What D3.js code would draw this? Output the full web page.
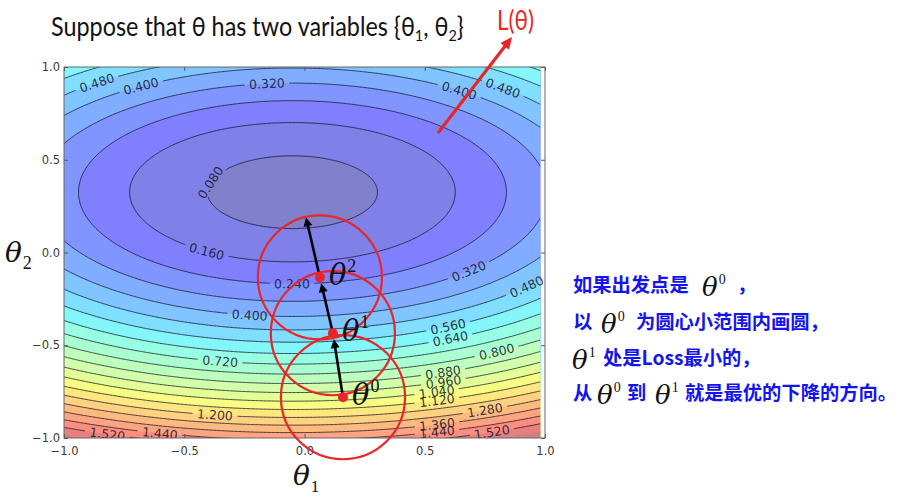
<!DOCTYPE html>
<html>
<head>
<meta charset="utf-8">
<script src="https://cdn.jsdelivr.net/npm/d3@7"></script>
<style>
  body { margin: 0; background: #fff; }
  svg { display: block; }
</style>
</head>
<body>
<svg id="chart" width="902" height="497"></svg>
<script>
// ---- values ----
// loss surface L(θ1, θ2): bowl with its bottom near (-0.05, 0.325)
let lossCenter = [-0.05, 0.325];
let lossCurvature = [0.24, 0.78];
let lossFloor = 0.05;
// contour levels that carry a line
let levels = [0.08, 0.16, 0.24, 0.32, 0.40, 0.48, 0.56, 0.64, 0.72, 0.80,
              0.88, 0.96, 1.04, 1.12, 1.20, 1.28, 1.36, 1.44, 1.52];
// filled band edges (the colour map runs from 0 to 1.68)
let fillLevels = [0, 0.08, 0.16, 0.24, 0.32, 0.40, 0.48, 0.56, 0.64, 0.72, 0.80,
                  0.88, 0.96, 1.04, 1.12, 1.20, 1.28, 1.36, 1.44, 1.52, 1.60];
let colorMax = 1.68;
let gridXMax = 0.98;   // the filled area stops a little short of the right frame
let xTicks = [-1, -0.5, 0, 0.5, 1];
let yTicks = [-1, -0.5, 0, 0.5, 1];
// inline contour labels: [level, θ1, θ2]
let labelSpots = [
  [0.48, -0.863, 0.914], [0.40, -0.684, 0.909], [0.32, -0.156, 0.909],
  [0.40, 0.647, 0.882], [0.48, 0.825, 0.887], [0.08, -0.375, 0.370],
  [0.16, -0.405, 0.011], [0.24, -0.052, -0.161], [0.40, -0.227, -0.328],
  [0.72, -0.351, -0.586], [1.20, -0.372, -0.871], [1.44, -0.601, -0.973],
  [1.52, -0.821, -0.984], [0.32, 0.688, -0.108], [0.48, 0.929, -0.194],
  [0.56, 0.597, -0.398], [0.64, 0.605, -0.457], [0.80, 0.800, -0.538],
  [0.88, 0.576, -0.645], [0.96, 0.576, -0.688], [1.04, 0.55, -0.753],
  [1.12, 0.55, -0.796], [1.28, 0.75, -0.849], [1.36, 0.55, -0.919],
  [1.44, 0.55, -0.962], [1.52, 0.78, -0.973]
];
// gradient steps θ0, θ1, θ2 and where the last arrow points
let stepNames = ['0', '1', '2'];
let stepPoints = [[0.160, -0.780], [0.118, -0.435], [0.064, -0.134]];
let stepEnd = [0.006, 0.190];
let stepRadius = 0.258;   // circle radius, in θ1 units
// red arrow towards the L(θ) axis
let lossArrow = [[0.555, 0.644], [0.863, 1.162]];
let titleText = ['Suppose that θ has two variables {θ', '1', ', θ', '2', '}'];
let noteLines = [
  [{t: '如果出发点是', x: 573}, {theta: '0', x: 702}, {t: '，', x: 737}],
  [{t: '以', x: 573}, {theta: '0', x: 601}, {t: '为圆心小范围内画圆，', x: 636}],
  [{theta: '1', x: 572}, {t: '处是Loss最小的，', x: 603}],
  [{t: '从', x: 573}, {theta: '0', x: 597}, {t: '到', x: 627}, {theta: '1', x: 655},
   {t: '就是最优的下降的方向。', x: 685}]
];
let noteBaselines = [292, 329, 365, 400];

// ---- setup ----
let W = 902, H = 497;
let svg = d3.select('#chart');
let defs = svg.append('defs');
let xScale = d3.scaleLinear().domain([-1, 1]).range([64, 545]);
let yScale = d3.scaleLinear().domain([-1, 1]).range([438, 67]);
let red = '#e8262a';
let serif = 'DejaVu Serif, Liberation Serif, serif';

function loss(t1, t2) {
    return lossFloor + lossCurvature[0] * (t1 - lossCenter[0]) ** 2
        + lossCurvature[1] * (t2 - lossCenter[1]) ** 2;
}
function lossGrad(t1, t2) {
    return [2 * lossCurvature[0] * (t1 - lossCenter[0]), 2 * lossCurvature[1] * (t2 - lossCenter[1])];
}

// jet colour map (matplotlib segment data)
let jetR = d3.scaleLinear().domain([0, 0.35, 0.66, 0.89, 1]).range([0, 0, 1, 1, 0.5]).clamp(true);
let jetG = d3.scaleLinear().domain([0, 0.125, 0.375, 0.64, 0.91, 1]).range([0, 0, 1, 1, 0, 0]).clamp(true);
let jetB = d3.scaleLinear().domain([0, 0.11, 0.34, 0.65, 1]).range([0.5, 1, 1, 0, 0]).clamp(true);
let alpha = 0.5;
function bandColor(v) {
    let t = v / colorMax;
    let mix = c => Math.round(255 * (1 - alpha) + 255 * c * alpha);
    return d3.rgb(mix(jetR(t)), mix(jetG(t)), mix(jetB(t))).toString();
}

// sample the surface on a grid a little bigger than the plot
let nx = 381, ny = 321;
let gx0 = -1.04, gx1 = 1.04, gyTop = 1.04, gyBot = -1.04;
let dxg = (gx1 - gx0) / (nx - 1), dyg = (gyTop - gyBot) / (ny - 1);
let values = new Array(nx * ny);
for (let j = 0; j < ny; j++) {
    for (let i = 0; i < nx; i++) {
        values[j * nx + i] = loss(gx0 + i * dxg, gyTop - j * dyg);
    }
}
let proj = d3.geoTransform({
    point: function (u, v) {
        this.stream.point(xScale(gx0 + (u - 0.5) * dxg), yScale(gyTop - (v - 0.5) * dyg));
    }
});
let path = d3.geoPath(proj);

// clips
defs.append('clipPath').attr('id', 'fillClip').append('rect')
    .attr('x', xScale(-1)).attr('y', yScale(1))
    .attr('width', xScale(gridXMax) - xScale(-1)).attr('height', yScale(-1) - yScale(1));
defs.append('clipPath').attr('id', 'plotClip').append('rect')
    .attr('x', xScale(-1)).attr('y', yScale(1))
    .attr('width', xScale(1) - xScale(-1)).attr('height', yScale(-1) - yScale(1));
let mask = defs.append('mask').attr('id', 'labelGap').attr('maskUnits', 'userSpaceOnUse')
    .attr('x', 0).attr('y', 0).attr('width', W).attr('height', H);
mask.append('rect').attr('width', W).attr('height', H).attr('fill', '#fff');

// ---- filled bands ----
let fillG = svg.append('g').attr('clip-path', 'url(#fillClip)');
let bands = d3.contours().size([nx, ny]).thresholds(fillLevels)(values);
fillG.selectAll('path.band')
    .data(bands)
    .enter()
    .append('path')
    .attr('class', 'band')
    .attr('d', path)
    .attr('fill', (d, i) => {
        let next = i + 1 < fillLevels.length ? fillLevels[i + 1] : colorMax;
        return bandColor((d.value + next) / 2);
    })
    .attr('stroke', 'none');

// ---- contour lines, broken where a label sits ----
let lineOuter = svg.append('g').attr('clip-path', 'url(#fillClip)');
let lineG = lineOuter.append('g').attr('mask', 'url(#labelGap)');
let isolines = d3.contours().size([nx, ny]).thresholds(levels)(values);
lineG.selectAll('path.iso')
    .data(isolines)
    .enter()
    .append('path')
    .attr('class', 'iso')
    .attr('d', path)
    .attr('fill', 'none')
    .attr('stroke', '#14142a')
    .attr('stroke-width', 0.9)
    .attr('stroke-opacity', 0.85);

// ---- contour labels ----
function snapToLevel(level, p) {
    // walk along the gradient until the point sits on the level curve
    let q = [p[0], p[1]];
    for (let k = 0; k < 8; k++) {
        let g = lossGrad(q[0], q[1]);
        let g2 = g[0] * g[0] + g[1] * g[1];
        let diff = loss(q[0], q[1]) - level;
        q = [q[0] - diff * g[0] / g2, q[1] - diff * g[1] / g2];
    }
    return q;
}
let labelG = svg.append('g').attr('clip-path', 'url(#plotClip)');
labelSpots.forEach(s => {
    let q = snapToLevel(s[0], [s[1], s[2]]);
    let g = lossGrad(q[0], q[1]);
    let kx = xScale(1) - xScale(0), ky = yScale(0) - yScale(1);
    let ang = Math.atan2(g[0] * ky, g[1] * kx) * 180 / Math.PI;
    if (ang > 90) ang -= 180;
    if (ang < -90) ang += 180;
    let px = xScale(q[0]), py = yScale(q[1]);
    let tf = 'translate(' + px + ',' + py + ') rotate(' + ang + ')';
    let txt = labelG.append('text')
        .attr('transform', tf)
        .attr('text-anchor', 'middle')
        .attr('dy', '0.36em')
        .attr('font-family', 'DejaVu Sans, sans-serif')
        .attr('font-size', 12.5)
        .attr('fill', '#15152a')
        .attr('fill-opacity', 0.88)
        .text(d3.format('.3f')(s[0]));
    let w = txt.node().getComputedTextLength() + 9;
    mask.append('rect')
        .attr('transform', tf)
        .attr('x', -w / 2).attr('y', -6)
        .attr('width', w).attr('height', 12)
        .attr('fill', '#000');
});

// ---- frame and axes ----
let fmt = d3.format('.1f');
let axisB = svg.append('g').attr('transform', 'translate(0,' + yScale(-1) + ')')
    .call(d3.axisBottom(xScale).tickValues(xTicks).tickSize(-4).tickPadding(9).tickFormat(fmt));
let axisL = svg.append('g').attr('transform', 'translate(' + xScale(-1) + ',0)')
    .call(d3.axisLeft(yScale).tickValues(yTicks).tickSize(-4).tickPadding(4).tickFormat(fmt));
let axisT = svg.append('g').attr('transform', 'translate(0,' + yScale(1) + ')')
    .call(d3.axisTop(xScale).tickValues(xTicks).tickSize(-4).tickFormat(''));
let axisR = svg.append('g').attr('transform', 'translate(' + xScale(1) + ',0)')
    .call(d3.axisRight(yScale).tickValues(yTicks).tickSize(-4).tickFormat(''));
[axisB, axisL, axisT, axisR].forEach(a => {
    a.select('.domain').remove();
    a.selectAll('line').attr('stroke', '#555');
    a.selectAll('text')
        .attr('font-family', 'DejaVu Sans, sans-serif')
        .attr('font-size', 11.5)
        .attr('fill', '#3a3a3a');
});
svg.append('rect')
    .attr('x', xScale(-1)).attr('y', yScale(1))
    .attr('width', xScale(1) - xScale(-1)).attr('height', yScale(-1) - yScale(1))
    .attr('fill', 'none').attr('stroke', '#666').attr('stroke-width', 1);

// ---- gradient steps ----
let stepPx = stepPoints.map(p => [xScale(p[0]), yScale(p[1])]);
let endPx = [xScale(stepEnd[0]), yScale(stepEnd[1])];
let rPx = xScale(stepRadius) - xScale(0);

function arrow(g, from, to, color, width, headLen, headHalf) {
    let dx = to[0] - from[0], dy = to[1] - from[1];
    let len = Math.sqrt(dx * dx + dy * dy);
    let ux = dx / len, uy = dy / len;
    let bx = to[0] - ux * headLen, by = to[1] - uy * headLen;
    g.append('line')
        .attr('x1', from[0]).attr('y1', from[1])
        .attr('x2', bx + ux * 1).attr('y2', by + uy * 1)
        .attr('stroke', color).attr('stroke-width', width);
    g.append('path')
        .attr('d', 'M' + to[0] + ',' + to[1]
            + 'L' + (bx - uy * headHalf) + ',' + (by + ux * headHalf)
            + 'L' + (bx + uy * headHalf) + ',' + (by - ux * headHalf) + 'Z')
        .attr('fill', color);
}

let stepG = svg.append('g');
stepPx.forEach((p, i) => {
    let target = i + 1 < stepPx.length ? stepPx[i + 1] : endPx;
    let dx = target[0] - p[0], dy = target[1] - p[1];
    let len = Math.sqrt(dx * dx + dy * dy);
    let cut = i + 1 < stepPx.length ? 6 : 0;
    let tip = [target[0] - dx / len * cut, target[1] - dy / len * cut];
    arrow(stepG, p, tip, '#000', 2.6, 9, 4.5);
});
stepG.selectAll('circle.ring')
    .data(stepPx)
    .enter()
    .append('circle')
    .attr('class', 'ring')
    .attr('cx', d => d[0]).attr('cy', d => d[1]).attr('r', rPx)
    .attr('fill', 'none').attr('stroke', red).attr('stroke-width', 2.2);
stepG.selectAll('circle.dot')
    .data(stepPx)
    .enter()
    .append('circle')
    .attr('class', 'dot')
    .attr('cx', d => d[0]).attr('cy', d => d[1]).attr('r', 5)
    .attr('fill', red);

function thetaText(g, x, y, size, sup, supSize, sub) {
    let t = g.append('text')
        .attr('x', x).attr('y', y)
        .attr('font-family', serif)
        .attr('fill', '#111');
    t.append('tspan').attr('font-style', 'italic').attr('font-size', size).text('θ');
    if (sup !== null) {
        t.append('tspan')
            .attr('font-family', 'Liberation Serif, serif')
            .attr('font-size', supSize)
            .attr('dx', 1)
            .attr('dy', sub ? size * 0.25 : -size * 0.45)
            .text(sup);
    }
    return t;
}
stepPx.forEach((p, i) => {
    thetaText(stepG, p[0] + 9, p[1] + 8, 29, stepNames[i], 18, false);
});

// ---- L(θ) arrow ----
let lossG = svg.append('g');
arrow(lossG, [xScale(lossArrow[0][0]), yScale(lossArrow[0][1])],
    [xScale(lossArrow[1][0]), yScale(lossArrow[1][1])], red, 3.2, 12, 5.5);
lossG.append('text')
    .attr('x', 497).attr('y', 30)
    .attr('font-family', 'Lato, Open Sans, sans-serif')
    .attr('font-size', 27)
    .attr('fill', red)
    .attr('textLength', 37)
    .attr('lengthAdjust', 'spacingAndGlyphs')
    .text('L(θ)');

// ---- title ----
let title = svg.append('text')
    .attr('font-family', 'Lato, Open Sans, sans-serif')
    .attr('font-size', 26)
    .attr('fill', '#111');
titleText.forEach((s, i) => {
    let sub = i === 1 || i === 3;
    let ts = title.append('tspan').text(s);
    if (sub) ts.attr('font-size', 16).attr('dy', 5);
    if (i === 2 || i === 4) ts.attr('dy', -5);
});
let tw = title.node().getComputedTextLength();
title.attr('transform', 'translate(51,36) scale(' + (413 / tw) + ',1)');

// ---- axis titles ----
thetaText(svg, 5, 262, 28, '2', 18, true);
thetaText(svg, 293, 485, 28, '1', 17, true);

// ---- note on the right ----
let noteG = svg.append('g');
noteLines.forEach((line, li) => {
    let y = noteBaselines[li];
    line.forEach(part => {
        if (part.theta !== undefined) {
            thetaText(noteG, part.x, y + 4, 26, part.theta, 14, false);
        } else {
            noteG.append('text')
                .attr('x', part.x).attr('y', y)
                .attr('font-family', 'Noto Sans CJK SC, sans-serif')
                .attr('font-weight', 700)
                .attr('font-size', 19.3)
                .attr('fill', '#1414ee')
                .text(part.t);
        }
    });
});
</script>
</body>
</html>
